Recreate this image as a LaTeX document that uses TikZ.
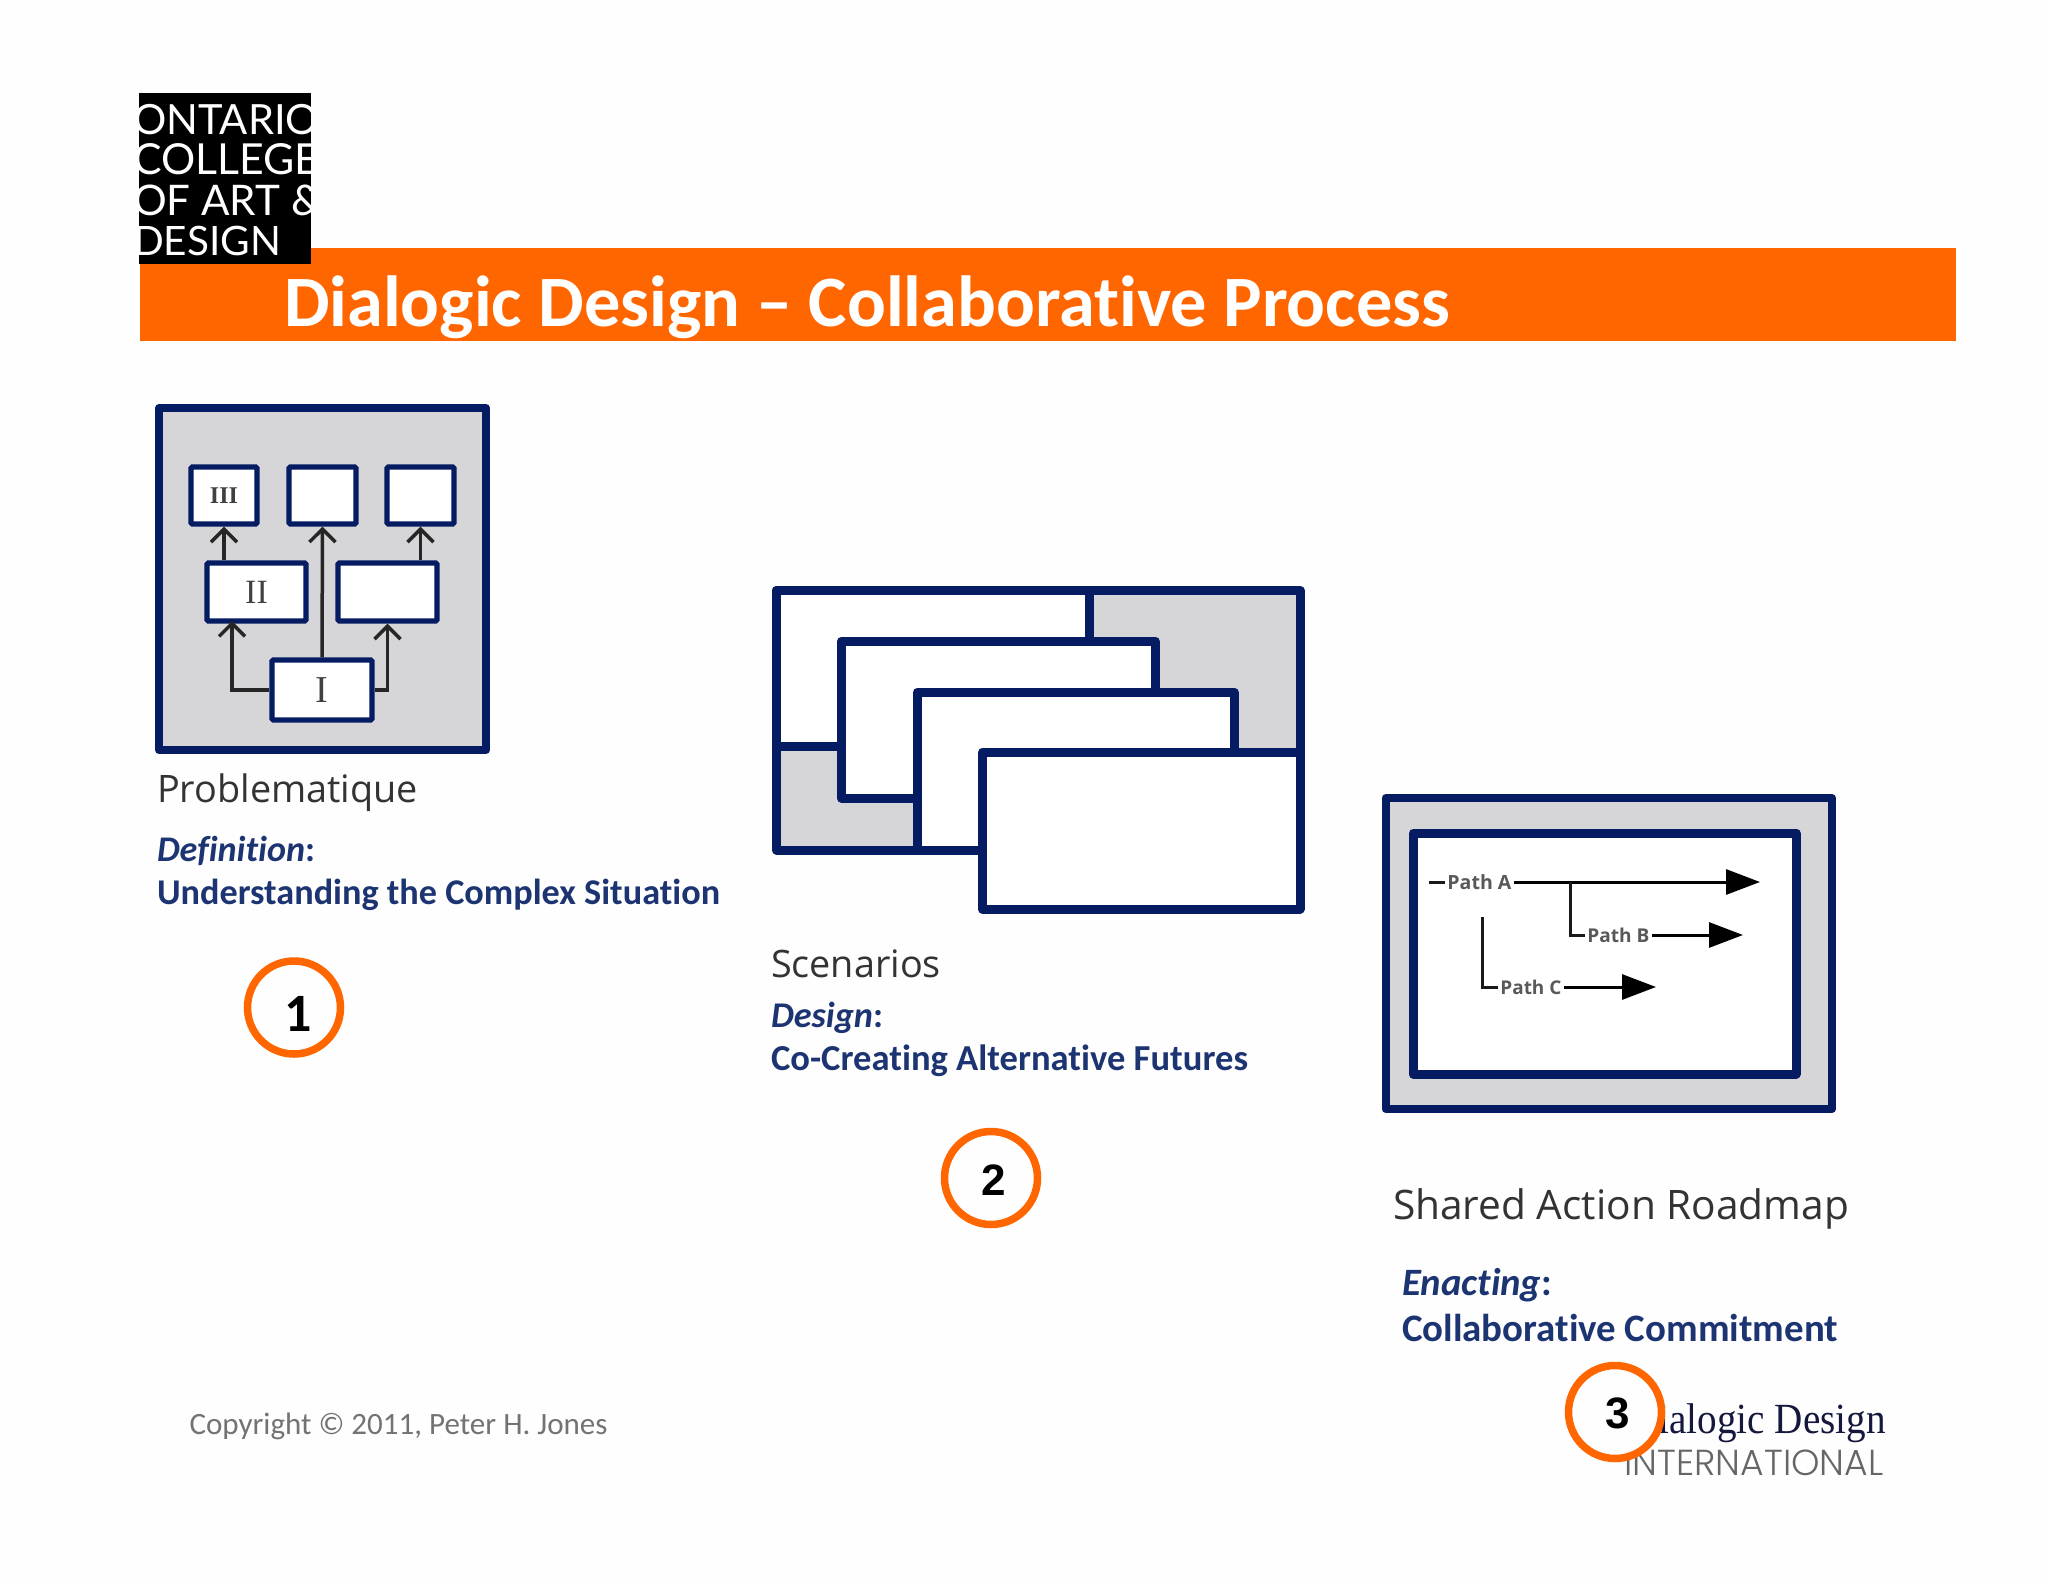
\documentclass[tikz,border=0pt]{standalone}
\usepackage{fontspec}
\usepackage{graphicx}
\usetikzlibrary{arrows.meta}
\setmainfont[Ligatures=NoCommon]{Carlito}
\newfontfamily\opensans{Open Sans}
\newfontfamily\lato{Lato}
\newfontfamily\libserif{Liberation Serif}
\newfontfamily\libsans{Liberation Sans}
\newfontfamily\intlfont{Poppins Light}
\definecolor{navy}{HTML}{051B62}
\definecolor{panelgray}{HTML}{D6D6D8}
\definecolor{barorange}{HTML}{FF6600}
\definecolor{blueink}{HTML}{1C3572}
\definecolor{inkgray}{HTML}{333333}
\definecolor{pagetone}{HTML}{FEFEFE}
\newcommand{\fitw}[2]{\resizebox{#1}{!}{#2}}
\tikzset{
  txt/.style={anchor=base west,inner sep=0pt,outer sep=0pt},
  frameline/.style={draw=navy,line width=4pt,line join=round},
  frameheavy/.style={draw=navy,line width=4.5pt,line join=round},
  smallbox/.style={draw=navy,fill=white,line width=2.6pt,rounded corners=0.6pt,inner sep=0pt,text=black!75},
  barbarrow/.style={draw=black!85,line width=1.75pt,-{Straight Barb[length=6.5pt,width=13pt]}},
  pathline/.style={draw=black!90,line width=1.5pt},
  patharrow/.style={draw=black,line width=1.5pt,-{Triangle[length=17pt,width=12.5pt]}},
  pathlabel/.style={anchor=west,inner xsep=1pt,inner ysep=0pt,font=\opensans\bfseries,text=black!65},
  numring/.style={circle,draw=barorange,fill=pagetone,line width=3.75pt,minimum size=46.5pt,inner sep=0pt},
  headtxt/.style={txt,text=inkgray,font=\opensans},
  bluetxt/.style={txt,text=blueink,font=\bfseries}
}
\begin{document}
\begin{tikzpicture}[x=0.5pt,y=-0.5pt]
\useasboundingbox (0,0) rectangle (2048,1582);
\fill[pagetone] (0,0) rectangle (2048,1582);

% header
\fill[barorange] (140,248) rectangle (1956,341);
\fill[black] (139,93) rectangle (311,264);
\begin{scope}
\clip (139,93) rectangle (311,264);
\node[txt,text=white] (l1) at (133,134.5) {\fitw{93pt}{\lato ONTARIO}};
\node[txt,text=white] (l2) at (133,175) {\fitw{93pt}{\lato COLLEGE}};
\node[txt,text=white] (l3) at (133,215.5) {\fitw{94pt}{\lato OF ART \&}};
\node[txt,text=white] (l4) at (133,256) {\fitw{74pt}{\lato DESIGN}};
\end{scope}
\node[txt,text=white] (title) at (284,327) {\fitw{583pt}{\fontsize{35}{40}\selectfont\bfseries Dialogic Design – Collaborative Process}};

% diagram 1
\draw[frameline,fill=panelgray] (159,408) rectangle (486,750);
\node[smallbox,minimum width=33pt,minimum height=28.5pt,font=\libserif\bfseries\fontsize{12}{14}\selectfont] (t1) at (224,495.5) {III};
\node[smallbox,minimum width=33.5pt,minimum height=28.5pt] (t2) at (322.5,495.5) {};
\node[smallbox,minimum width=33.5pt,minimum height=28.5pt] (t3) at (420.5,495.5) {};
\node[smallbox,minimum width=49.5pt,minimum height=29pt,font=\libserif\fontsize{17}{18}\selectfont] (m1) at (256.5,592) {II};
\node[smallbox,minimum width=49.5pt,minimum height=29pt] (m2) at (387.5,592) {};
\node[smallbox,minimum width=50pt,minimum height=30pt,font=\libserif\fontsize{19}{20}\selectfont] (b1) at (322,690) {I};
\coordinate (m1in) at (232,621);
\draw[barbarrow] (t1.south |- m1.north) -- (t1.south);
\draw[barbarrow] (b1.north) -- (t2.south);
\draw[barbarrow] (t3.south |- m2.north) -- (t3.south);
\draw[barbarrow] (b1.west) -| (m1in);
\draw[barbarrow] (b1.east) -| (m2.south);

\node[headtxt] (h1) at (157,802) {\fitw{130.5pt}{Problematique}};
\node[bluetxt] (d1) at (157,861) {\fitw{79pt}{\itshape Definition\upshape:}};
\node[bluetxt] (u1) at (157,904) {\fitw{281.5pt}{Understanding the Complex Situation}};

% diagram 2
\draw[frameheavy,fill=panelgray] (776.5,590.5) rectangle (1300,850);
\draw[frameheavy,fill=white] (776.5,590.5) rectangle (1089,746);
\draw[frameheavy,fill=white] (841.5,641) rectangle (1155,798);
\draw[frameheavy,fill=white] (917,692) rectangle (1234,850);
\draw[frameheavy,fill=white] (982.5,752) rectangle (1300,909);

\node[headtxt] (h2) at (771,977) {\fitw{85pt}{Scenarios}};
\node[bluetxt] (d2) at (771,1027) {\fitw{56pt}{\itshape Design\upshape:}};
\node[bluetxt] (u2) at (771,1070) {\fitw{238.5pt}{Co-Creating Alternative Futures}};

% diagram 3
\draw[frameline,fill=panelgray] (1385.5,798) rectangle (1832,1109);
\draw[draw=navy,line width=4.5pt,line join=round,fill=white] (1413,833) rectangle (1796,1074);
\node[pathlabel] (pa) at (1445,882) {\fitw{32pt}{Path A}};
\node[pathlabel] (pb) at (1585,935) {\fitw{31pt}{Path B}};
\node[pathlabel] (pc) at (1498,987) {\fitw{30.5pt}{Path C}};
\coordinate (a0) at (1429,882);
\coordinate (ae) at (1760,882);
\coordinate (b0) at (1570,882);
\coordinate (be) at (1743,935);
\coordinate (c0) at (1482,917);
\coordinate (ce) at (1656,987);
\draw[pathline] (a0) -- (pa.west);
\draw[patharrow] (pa.east) -- (ae);
\draw[pathline] (b0) |- (pb.west);
\draw[patharrow] (pb.east) -- (be);
\draw[pathline] (c0) |- (pc.west);
\draw[patharrow] (pc.east) -- (ce);

\node[headtxt] (h3) at (1393,1219) {\fitw{228pt}{Shared Action Roadmap}};
\node[bluetxt] (d3) at (1402,1295.5) {\fitw{75pt}{\itshape Enacting\upshape:}};
\node[bluetxt] (u3) at (1402,1341) {\fitw{218pt}{Collaborative Commitment}};

% footer
\node[txt,text=black!55] (copy) at (189.5,1434) {\fitw{209pt}{Copyright © 2011, Peter H. Jones}};
\node[anchor=base east,inner sep=0pt,text={rgb,255:red,20;green,24;blue,60}] (dd) at (1886,1433) {\scalebox{0.91}[1]{\libserif\fontsize{21.5}{24}\selectfont Dialogic Design}};
\node[anchor=base east,inner sep=0pt,text=black!60] (intl) at (1884,1475) {\fitw{129.5pt}{\intlfont INTERNATIONAL}};

% numbered rings
\node[numring] (r1) at (294,1007.5) {};
\node[inner sep=0pt,text=black] (n1) at (298,1013.5) {\fontsize{27}{30}\selectfont\bfseries 1};
\node[numring] (r2) at (991,1178) {};
\node[inner sep=0pt,text=black] (n2) at (994,1180) {\libsans\fontsize{22}{24}\selectfont\bfseries 2};
\node[numring] (r3) at (1615,1412) {};
\node[inner sep=0pt,text=black] (n3) at (1618,1413) {\libsans\fontsize{22}{24}\selectfont\bfseries 3};
\end{tikzpicture}
\end{document}
